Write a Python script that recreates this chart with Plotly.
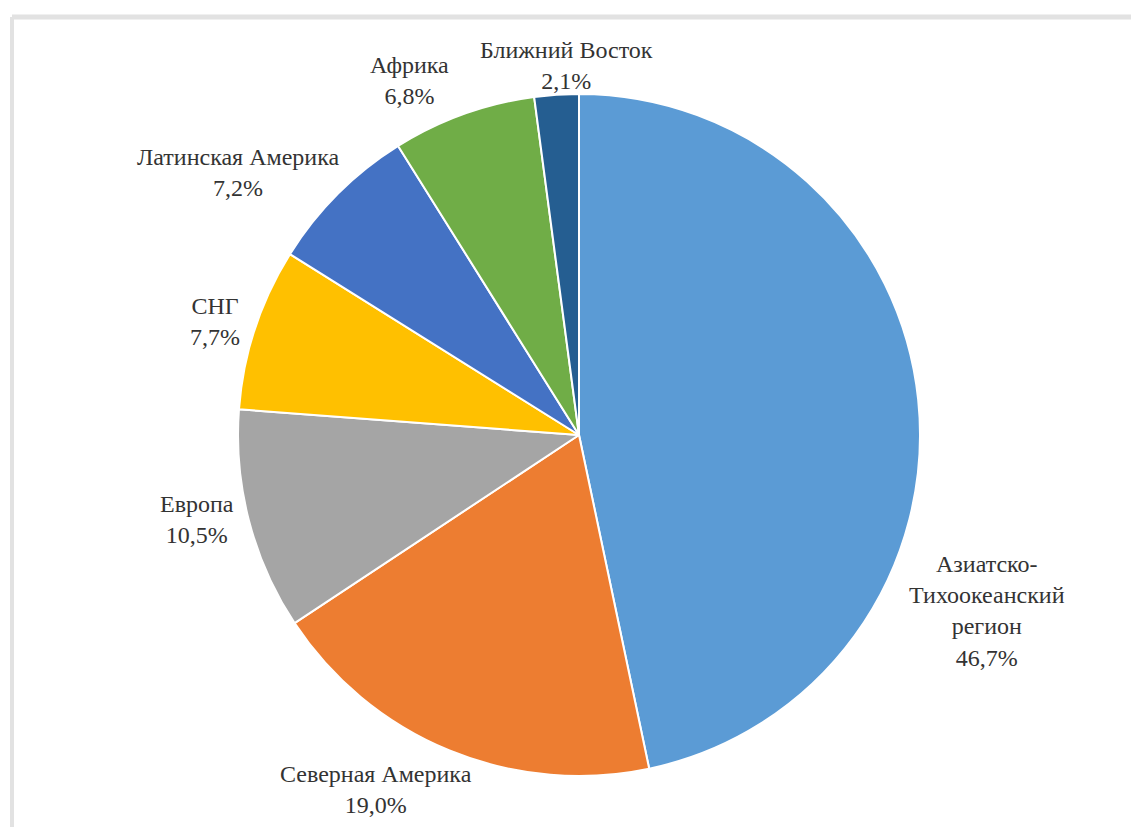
import plotly.graph_objects as go

regions = ["Азиатско-<br>Тихоокеанский<br>регион", "Северная Америка", "Европа", "СНГ",
           "Латинская Америка", "Африка", "Ближний Восток"]
shares = [46.7, 19.0, 10.5, 7.7, 7.2, 6.8, 2.1]
share_labels = ["46,7%", "19,0%", "10,5%", "7,7%", "7,2%", "6,8%", "2,1%"]
colors = ["#5B9BD5", "#ED7D31", "#A5A5A5", "#FFC000", "#4472C4", "#70AD47", "#255E91"]

# label anchor positions in pixels (x, y of text centre)
label_pos = [(987, 611), (376, 789), (197, 519), (215, 321), (238, 172), (409, 81), (566, 65)]

W, H = 1131, 827
cx, cy, r = 579, 435, 341

fig = go.Figure(go.Pie(
    labels=[l.replace("<br>", " ") for l in regions],
    values=shares,
    sort=False,
    direction="clockwise",
    rotation=0,
    marker=dict(colors=colors, line=dict(color="white", width=2)),
    textinfo="none",
    hoverinfo="label+percent",
    showlegend=False,
    domain=dict(x=[(cx - r) / W, (cx + r) / W], y=[(H - cy - r) / H, (H - cy + r) / H]),
))

for name, pct, (x, y) in zip(regions, share_labels, label_pos):
    fig.add_annotation(
        x=x / W, y=1 - y / H, xref="paper", yref="paper",
        text=f"{name}<br>{pct}", showarrow=False,
        font=dict(family="Liberation Serif, Times New Roman, serif", size=24, color="#333333"),
        align="center", xanchor="center", yanchor="middle",
    )

# light frame at top and left
fig.add_shape(type="line", xref="paper", yref="paper", x0=12 / W, x1=1, y0=1 - 17 / H, y1=1 - 17 / H,
              line=dict(color="#e2e2e2", width=5))
fig.add_shape(type="line", xref="paper", yref="paper", x0=12 / W, x1=12 / W, y0=0, y1=1 - 17 / H,
              line=dict(color="#e2e2e2", width=4))

fig.update_layout(
    width=W, height=H,
    margin=dict(l=0, r=0, t=0, b=0),
    paper_bgcolor="white", plot_bgcolor="white",
)

fig.write_html("out.html")
